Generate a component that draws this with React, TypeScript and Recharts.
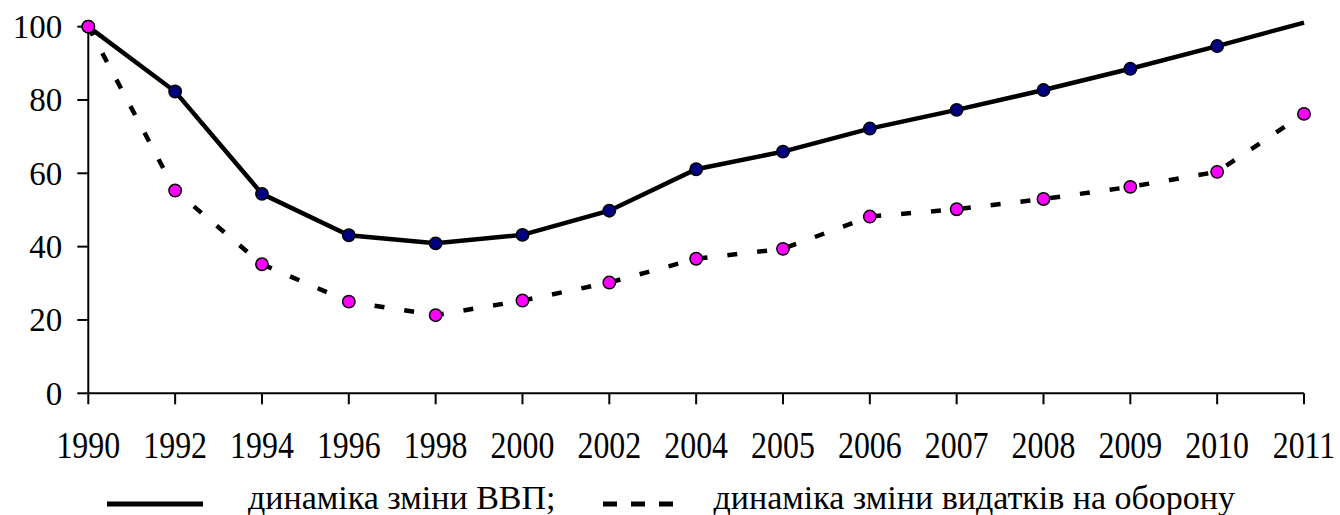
import { LineChart, Line, XAxis, YAxis, Legend } from "recharts";

const years = ["1990", "1992", "1994", "1996", "1998", "2000", "2002", "2004", "2005", "2006", "2007", "2008", "2009", "2010", "2011"];
const gdp = [100, 82.3, 54.4, 43.1, 40.9, 43.2, 49.8, 61.1, 65.9, 72.2, 77.3, 82.7, 88.5, 94.7, 101.1];
const defence = [100, 55.3, 35.2, 25.0, 21.3, 25.3, 30.2, 36.7, 39.4, 48.2, 50.2, 53.0, 56.3, 60.4, 76.2];
const yTicks = [0, 20, 40, 60, 80, 100];
const gdpLabel = "динаміка зміни ВВП;";
const defenceLabel = "динаміка зміни видатків на оборону";

const data = years.map((year, i) => ({ year, gdp: gdp[i], defence: defence[i] }));

const FONT = '"Liberation Serif", "Times New Roman", serif';

// legend line samples (width, dash, space before the text)
const legendSamples: Record<string, { width: number; dash?: string; gap: number }> = {
  gdp: { width: 96, gap: 45 },
  defence: { width: 71, dash: "14 14", gap: 40 },
};

function XTick({ x, y, payload }: any) {
  return (
    <g transform={`translate(${x},${y})`}>
      <text x={0} y={0} dy={52} textAnchor="middle" fontFamily={FONT} fontSize={37.5} fill="#000" transform="scale(0.85,1)">
        {payload.value}
      </text>
    </g>
  );
}

function YTick({ x, y, payload }: any) {
  return (
    <text x={x} y={y} dy={11.5} textAnchor="end" fontFamily={FONT} fontSize={33} fill="#000">
      {payload.value}
    </text>
  );
}

function gdpDot(props: any) {
  const { cx, cy, index } = props;
  if (index === years.length - 1) return <g key={`gdp-dot-${index}`} />;
  return <circle key={`gdp-dot-${index}`} cx={cx} cy={cy} r={6.2} fill="#000080" stroke="#000" strokeWidth={1.5} />;
}

function LegendRow({ payload }: any) {
  return (
    <div
      style={{
        display: "flex",
        alignItems: "flex-start",
        paddingLeft: 107,
        height: 37,
        fontFamily: FONT,
        fontSize: 34,
        whiteSpace: "nowrap",
        color: "#000",
      }}
    >
      {(payload || []).map((entry: any, i: number) => {
        const s = legendSamples[entry.dataKey] || legendSamples.gdp;
        return (
          <div key={entry.dataKey} style={{ display: "flex", alignItems: "flex-start", marginRight: i === 0 ? 47 : 0 }}>
            <svg width={s.width} height={10} style={{ marginTop: 20.7, marginRight: s.gap }}>
              <line x1={0} y1={5} x2={s.width} y2={5} stroke="#000" strokeWidth={5} strokeDasharray={s.dash} />
            </svg>
            <span style={{ lineHeight: "34px", marginTop: 2.5 }}>{entry.value}</span>
          </div>
        );
      })}
    </div>
  );
}

export default function App() {
  return (
    <div style={{ width: 1340, height: 515, background: "#fff" }}>
      <style>{`body{margin:0}`}</style>
      <LineChart width={1340} height={515} data={data} margin={{ top: 22.6, right: 36, left: 0, bottom: 61.7 }}>
        <XAxis
          dataKey="year"
          interval={0}
          height={60}
          tickSize={11}
          axisLine={{ stroke: "#000", strokeWidth: 2 }}
          tickLine={{ stroke: "#000", strokeWidth: 2 }}
          tick={<XTick />}
        />
        <YAxis
          width={88.3}
          domain={[0, "dataMax"]}
          ticks={yTicks}
          tickSize={11}
          tickMargin={15}
          axisLine={{ stroke: "#000", strokeWidth: 2 }}
          tickLine={{ stroke: "#000", strokeWidth: 2 }}
          tick={<YTick />}
        />
        <Legend
          layout="vertical"
          align="center"
          verticalAlign="middle"
          wrapperStyle={{ top: 478, left: 0, width: 1340 }}
          content={<LegendRow />}
        />
        <Line
          type="linear"
          dataKey="gdp"
          name={gdpLabel}
          stroke="#000"
          strokeWidth={4.5}
          dot={gdpDot}
          activeDot={false}
          isAnimationActive={false}
        />
        <Line
          type="linear"
          dataKey="defence"
          name={defenceLabel}
          stroke="#000"
          strokeWidth={4.5}
          strokeDasharray="10 20"
          dot={{ r: 6.2, fill: "#ff00ff", stroke: "#000", strokeWidth: 1.5, strokeDasharray: "none" }}
          activeDot={false}
          isAnimationActive={false}
        />
      </LineChart>
    </div>
  );
}
